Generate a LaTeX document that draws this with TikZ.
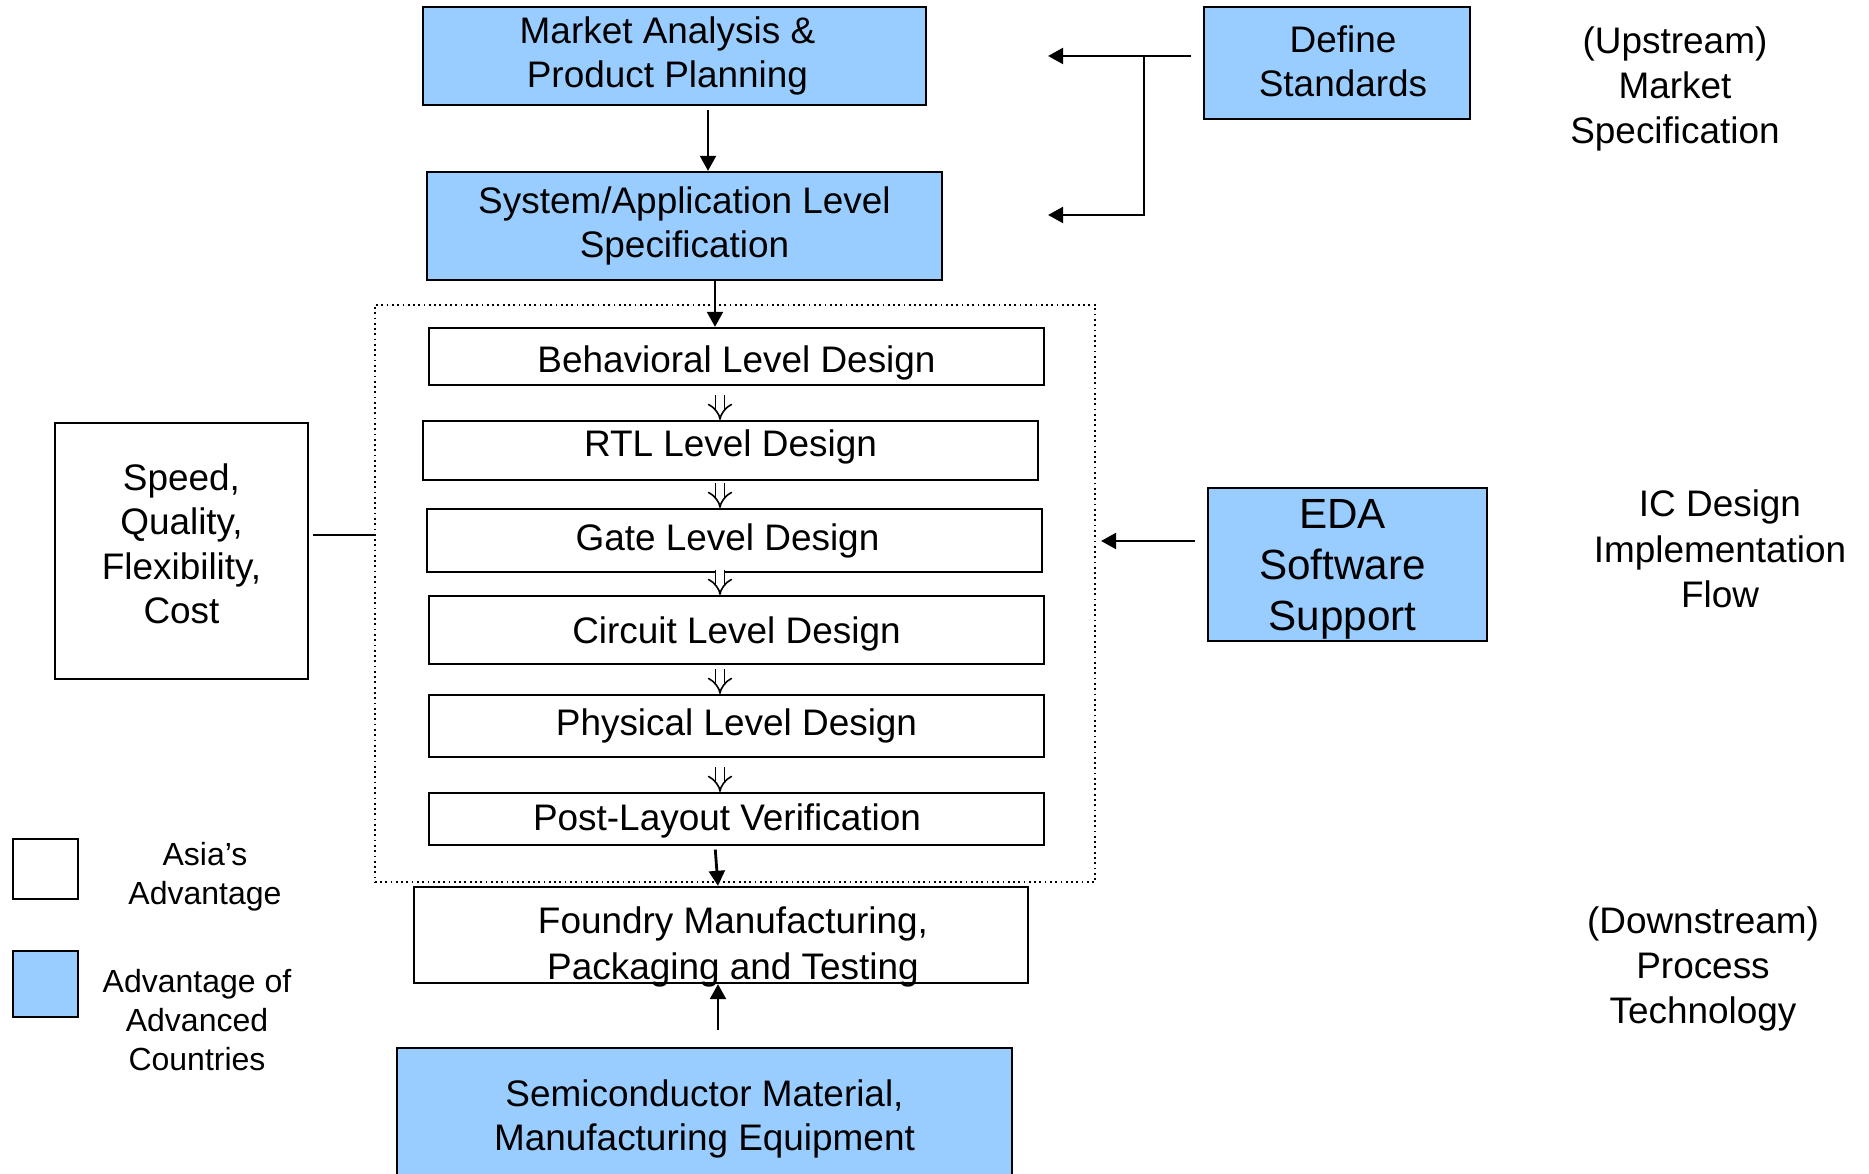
\documentclass[tikz,border=0pt]{standalone}
\usepackage{fontspec}
\setmainfont{Liberation Sans}
\usepackage{xcolor}
\usetikzlibrary{arrows.meta,calc,positioning}
\definecolor{advblue}{RGB}{153,204,255}

\begin{document}
\begin{tikzpicture}[x=0.01cm,y=-0.01cm,
  every node/.style={font=\fontsize{10.5}{12.6}\selectfont,align=center},
  box/.style={draw,line width=0.6pt,inner sep=0pt},
  bluebox/.style={box,fill=advblue},
  stage/.style={box,minimum width=6.15cm},
  side/.style={font=\fontsize{10.5}{12.9}\selectfont},
  key/.style={font=\fontsize{9.1}{11.1}\selectfont},
  arr/.style={line width=0.8pt,-{Triangle[length=4.3pt,width=4.5pt]}},
  link/.style={line width=0.8pt},
  dbl/.style={double,double distance=2pt,line width=0.45pt,-{Implies}}]
  \clip (0,0) rectangle (1869,1174);
  \node[bluebox,minimum width=5.03cm,minimum height=0.98cm,
    label={[xshift=-2pt]center:Market Analysis \&\\Product Planning}] (market) at (674.5,56) {};
  \node[bluebox,minimum width=5.15cm,minimum height=1.08cm] (system) at (684.5,226) {System/Application Level\\Specification};
  \node[draw,densely dotted,line width=0.5pt,minimum width=7.2cm,minimum height=5.77cm] (flow) at (735,593.5) {};
  \node[stage,minimum height=0.57cm,label={[yshift=-1.7pt]center:Behavioral Level Design}] (behav) at (736.5,356.5) {};
  \node[stage,minimum height=0.59cm,label={[yshift=1pt]center:RTL Level Design}] (rtl) at (730.5,450.5) {};
  \node[stage,minimum height=0.63cm,label={[xshift=-2pt]center:Gate Level Design}] (gate) at (734.5,540.5) {};
  \node[stage,minimum height=0.68cm,label={[yshift=-1pt]center:Circuit Level Design}] (circuit) at (736.5,630) {};
  \node[stage,minimum height=0.62cm] (phys) at (736.5,726) {Physical Level Design};
  \node[stage,minimum height=0.52cm,label={[xshift=-2.7pt,yshift=-0.7pt]center:Post-Layout Verification}] (post) at (736.5,819) {};
  \node[box,minimum width=6.14cm,minimum height=0.96cm,
    label={[xshift=3.4pt,yshift=-3.4pt,font=\fontsize{10.5}{12.9}\selectfont]center:Foundry Manufacturing,\\Packaging and Testing}] (foundry) at (721,935) {};
  \node[bluebox,minimum width=6.15cm,minimum height=1.42cm] (semi) at (704.5,1119) {Semiconductor Material,\\Manufacturing Equipment};
  \node[box,minimum width=2.53cm,minimum height=2.56cm,label={[yshift=2pt]center:Speed,\\Quality,\\Flexibility,\\Cost}] (speed) at (181.5,551) {};
  \node[bluebox,minimum width=2.66cm,minimum height=1.12cm,
    label={[xshift=1.7pt,yshift=0.5pt]center:Define\\Standards}] (define) at (1337,63) {};
  \node[bluebox,minimum width=2.79cm,minimum height=1.53cm,
    label={[yshift=-1.4pt,xshift=-1.4pt,font=\fontsize{12}{14.6}\selectfont]center:EDA\\Software\\Support}] (eda) at (1347.5,564.5) {};
  \node[box,minimum width=0.65cm,minimum height=0.6cm] (asia) at (45.5,869) {};
  \node[bluebox,minimum width=0.65cm,minimum height=0.66cm] (adv) at (45.5,984) {};
  \node[key] (asialbl) at (205,877) {Asia’s\\Advantage};
  \node[key] (advlbl) at (197,1020) {Advantage of\\Advanced\\Countries};
  \node[side] (upstream) at (1675,89) {(Upstream)\\Market\\Specification};
  \node[side] (icflow) at (1720,549) {IC Design\\Implementation\\Flow};
  \node[side] (downstream) at (1703,969) {(Downstream)\\Process\\Technology};
  \coordinate (colA) at (708,0);
  \coordinate (colB) at (715,0);
  \coordinate (colC) at (718,0);
  \coordinate (colD) at (720,0);
  \coordinate (tipA) at (1048,56);
  \coordinate (tipB) at (1048,215);
  \coordinate (fork) at (1144,56);
  \coordinate (rowE) at (0,541);
  \coordinate (rowS) at (0,535);
  \draw[arr,shorten <=1pt] (market.south -| colA) -- (system.north -| colA);
  \draw[arr] (system.south -| colB) -- (behav.north -| colB);
  \foreach \a/\b in {behav/rtl,rtl/gate,gate/circuit,circuit/phys,phys/post}
    \draw[dbl] ($(\b.north -| colD)+(0,-25)$) -- (\b.north -| colD);
  \draw[arr,shorten <=1pt] (post.south -| colB) -- (foundry.north -| colC);
  \draw[arr,shorten <=4.8pt] (semi.north -| colC) -- (foundry.south -| colC);
  \draw[arr,shorten <=3.4pt] (define.west |- tipA) -- (tipA);
  \draw[arr] (fork) |- (tipB);
  \draw[arr,shorten <=3.4pt,shorten >=1.4pt] (eda.west |- rowE) -- (flow.east |- rowE);
  \draw[link,shorten <=1.1pt] (speed.east |- rowS) -- (flow.west |- rowS);
\end{tikzpicture}
\end{document}
